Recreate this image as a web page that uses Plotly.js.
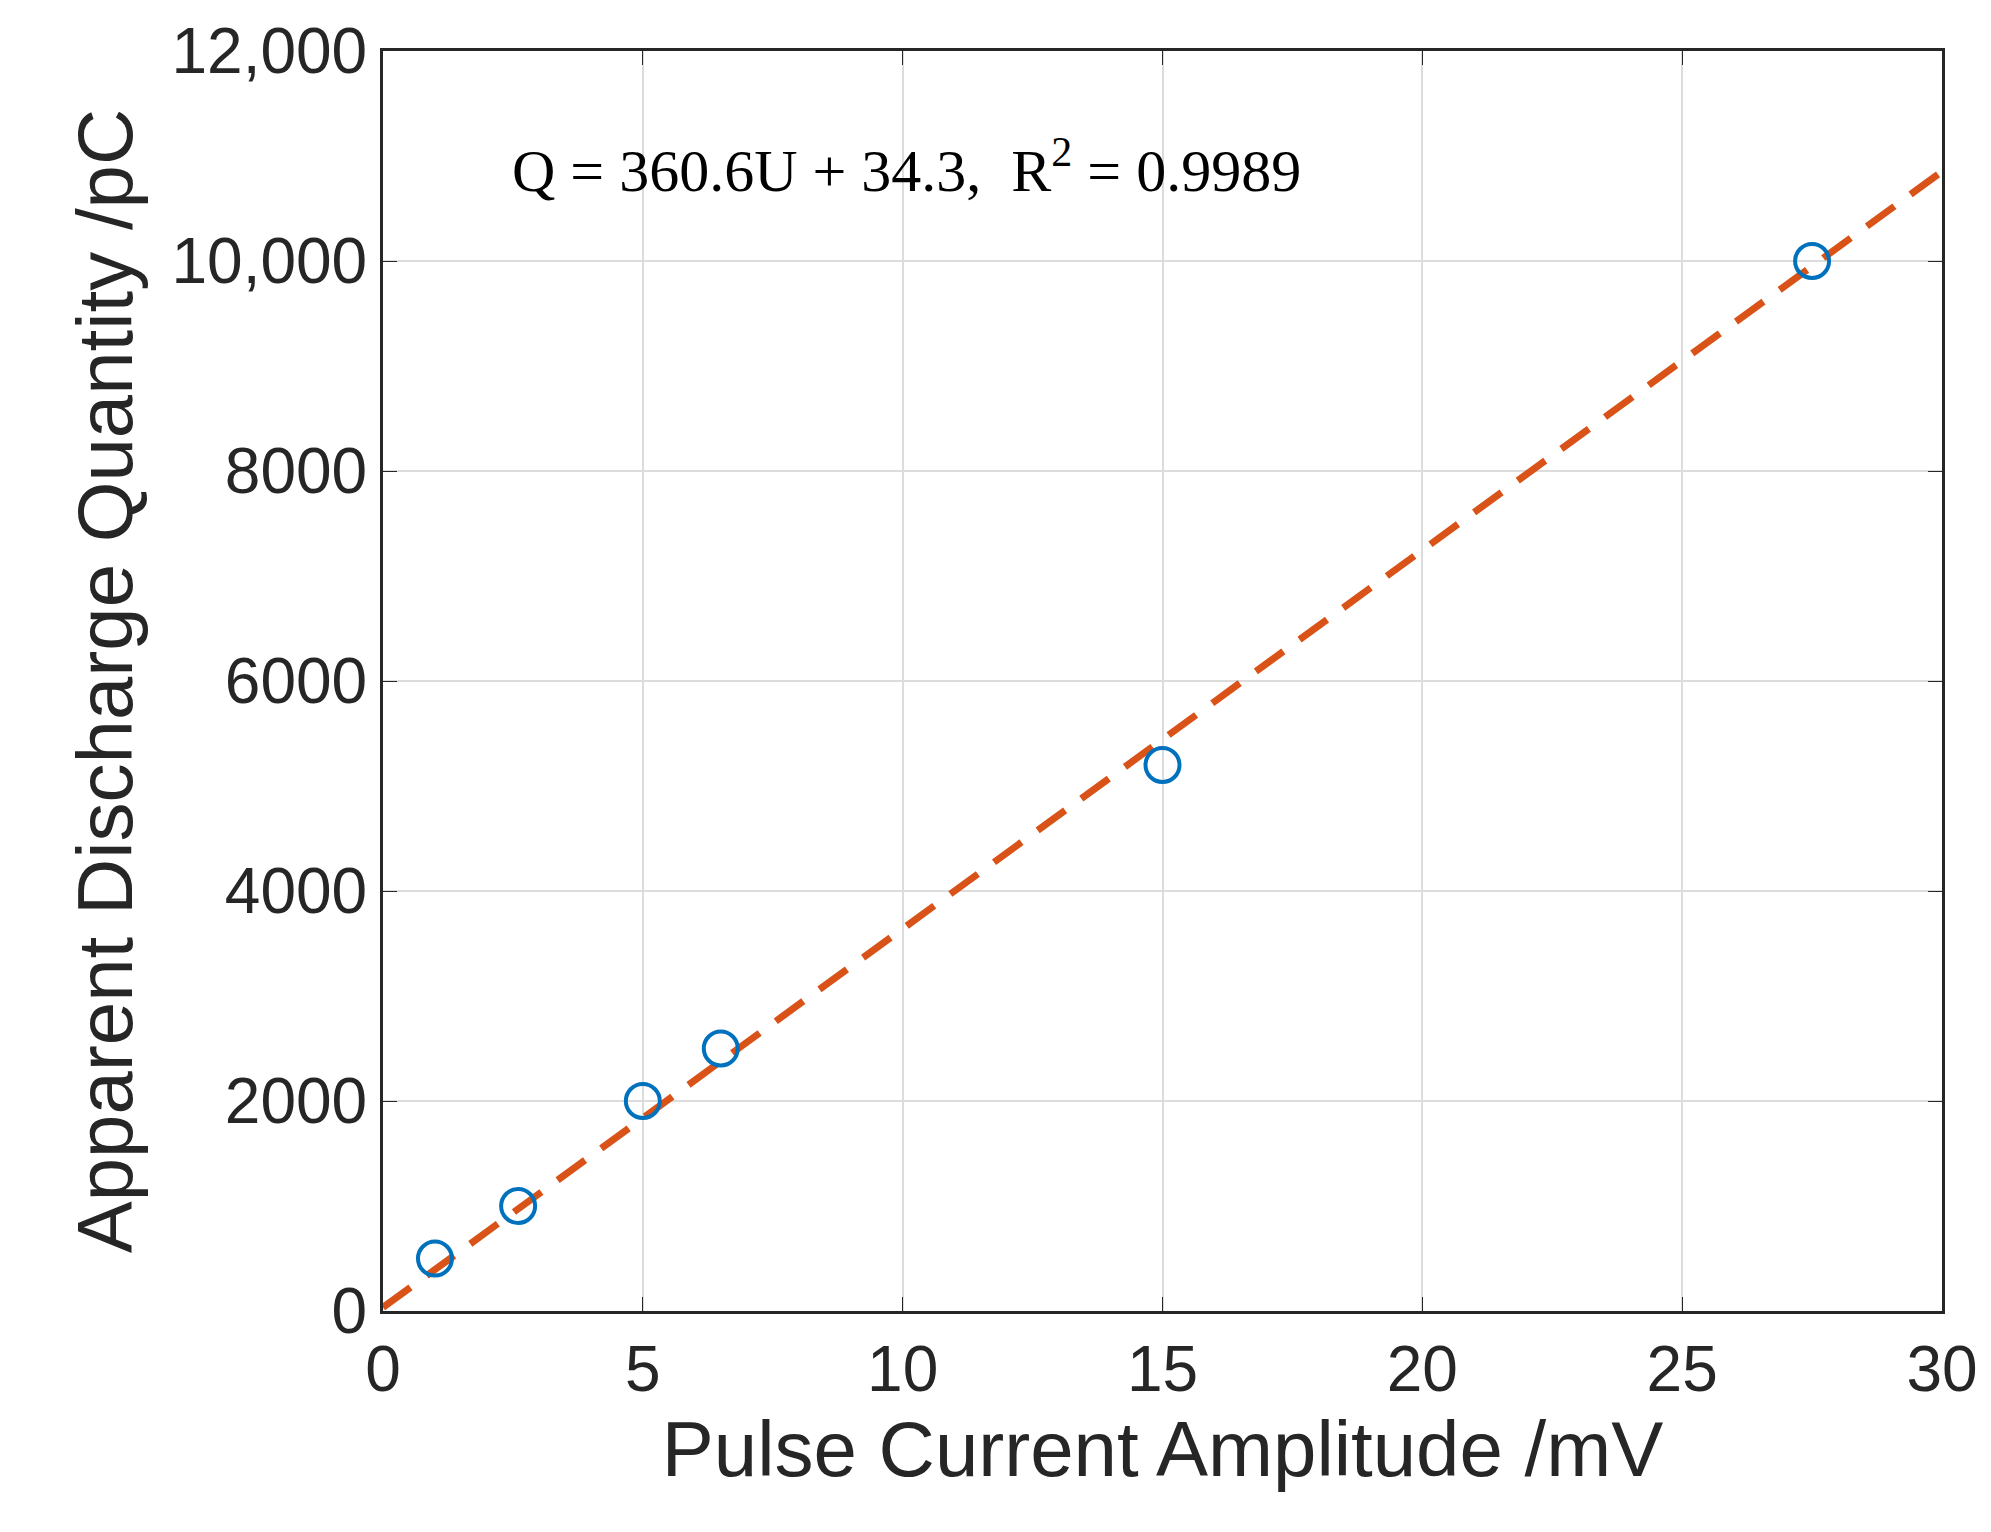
<!DOCTYPE html>
<html>
<head>
<meta charset="utf-8">
<script src="https://cdn.plot.ly/plotly-3.0.1.min.js"></script>
<style>body{margin:0;background:#fff}</style>
</head>
<body>
<div id="chart" style="width:1991px;height:1532px"></div>
<script>
// measured points
const amplitude = [1, 2.6, 5, 6.5, 15, 27.5];
const charge = [500, 1000, 2000, 2500, 5200, 10000];
// fitted line end points (Q = 360.6U + 34.3)
const fitX = [0, 30];
const fitY = [34.3, 10852.3];
const xTicks = [0, 5, 10, 15, 20, 25, 30];
const yTicks = [0, 2000, 4000, 6000, 8000, 10000, 12000];
const yLabels = ['0', '2000', '4000', '6000', '8000', '10,000', '12,000'];

const axisFont = {family: 'Arial, Liberation Sans, sans-serif', size: 64, color: '#262626'};
const titleFont = {family: 'Arial, Liberation Sans, sans-serif', size: 78, color: '#262626'};

const traces = [
  {x: fitX, y: fitY, mode: 'lines', line: {color: '#D95319', width: 7, dash: '34px,20px'}, hoverinfo: 'skip'},
  {x: amplitude, y: charge, mode: 'markers',
   marker: {symbol: 'circle-open', size: 34, color: '#0072BD', line: {width: 4, color: '#0072BD'}}}
];

const layout = {
  showlegend: false,
  margin: {l: 383, r: 49, t: 51, b: 221},
  paper_bgcolor: '#fff', plot_bgcolor: '#fff',
  xaxis: {
    range: [0, 30], tickvals: xTicks, ticks: 'inside', ticklen: 14, tickcolor: '#262626',
    showgrid: true, gridcolor: '#dcdcdc', gridwidth: 2, zeroline: false,
    showline: true, linecolor: '#262626', linewidth: 3, mirror: 'ticks',
    tickfont: axisFont,
    title: {text: 'Pulse Current Amplitude /mV', font: titleFont, standoff: 10}
  },
  yaxis: {
    range: [0, 12000], tickvals: yTicks, ticktext: yLabels, ticks: 'inside', ticklen: 14, tickcolor: '#262626',
    showgrid: true, gridcolor: '#dcdcdc', gridwidth: 2, zeroline: false,
    showline: true, linecolor: '#262626', linewidth: 3, mirror: 'ticks',
    tickfont: axisFont,
    title: {text: 'Apparent Discharge Quantity /pC', font: titleFont, standoff: 14}
  },
  annotations: [{
    x: 2.45, y: 10900, xref: 'x', yref: 'y', xanchor: 'left', yanchor: 'middle', showarrow: false,
    text: 'Q = 360.6U + 34.3,  R<sup>2</sup> = 0.9989',
    font: {family: 'Liberation Serif, Times New Roman, serif', size: 60, color: '#000'}
  }]
};

Plotly.newPlot('chart', traces, layout, {displayModeBar: false});
</script>
</body>
</html>
